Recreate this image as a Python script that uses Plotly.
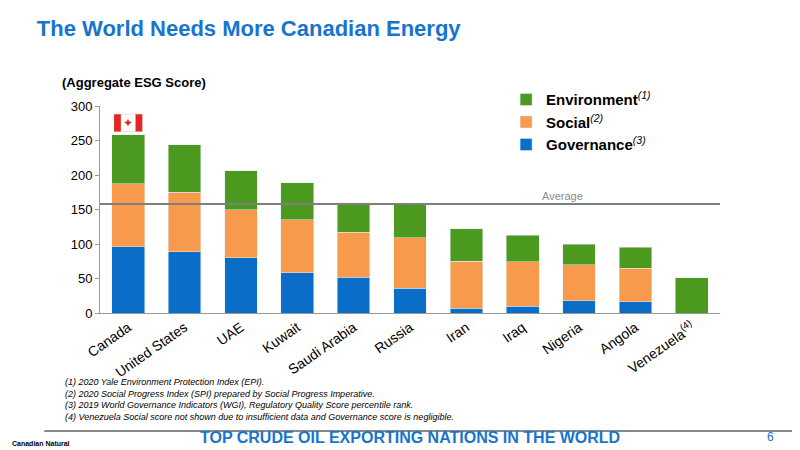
import plotly.graph_objects as go

countries = ["Canada","United States","UAE","Kuwait","Saudi Arabia","Russia","Iran","Iraq","Nigeria","Angola","Venezuela<sup>(4)</sup>"]
governance = [96, 89, 80, 58, 52, 36, 7, 10, 18, 16, 0]
social = [91, 86, 70, 77, 65, 73, 68, 64, 52, 49, 0]
environment = [71, 69, 56, 54, 43, 49, 47, 39, 30, 30, 51]
average = 158

fig = go.Figure()
fig.add_bar(x=countries, y=governance, name="<b>Governance</b><i><sup>(3)</sup></i>", marker_color="#0A6EC8")
fig.add_bar(x=countries, y=social, name="<b>Social</b><i><sup>(2)</sup></i>", marker_color="#F79A4B")
fig.add_bar(x=countries, y=environment, name="<b>Environment</b><i><sup>(1)</sup></i>", marker_color="#4B9A1F")

fig.add_shape(type="line", xref="paper", yref="y", x0=0, x1=1, y0=average, y1=average,
              line=dict(color="#7f7f7f", width=2))
fig.add_annotation(xref="x", yref="y", x=7.7, y=average, text="Average", showarrow=False,
                   yanchor="bottom", font=dict(size=11, color="#8c8c8c"))

# Canada flag
fig.add_shape(type="rect", xref="x", yref="y", x0=-0.25, x1=0.25, y0=263, y1=288,
              fillcolor="white", line=dict(color="#cccccc", width=0.5))
fig.add_shape(type="rect", xref="x", yref="y", x0=-0.25, x1=-0.13, y0=263, y1=288,
              fillcolor="#E52521", line_width=0)
fig.add_shape(type="rect", xref="x", yref="y", x0=0.13, x1=0.25, y0=263, y1=288,
              fillcolor="#E52521", line_width=0)
fig.add_annotation(xref="x", yref="y", x=0, y=275.5, text="✦", showarrow=False,
                   font=dict(size=12, color="#E52521"))

fig.update_layout(
    width=800, height=450, barmode="stack", bargap=0.42,
    plot_bgcolor="white", paper_bgcolor="white",
    margin=dict(l=92, r=88, t=98, b=145),
    font=dict(family="Liberation Sans, Arial", color="#000"),
    title=dict(text="<b>The World Needs More Canadian Energy</b>", x=0.036, xanchor="left",
               y=0.955, yanchor="middle", font=dict(size=22, color="#1874CD")),
    legend=dict(x=0.655, y=1.11, xanchor="left", yanchor="top", traceorder="reversed",
                font=dict(size=15), bgcolor="rgba(0,0,0,0)", itemwidth=30, tracegroupgap=0),
    showlegend=True,
    xaxis=dict(tickangle=-35, tickfont=dict(size=14), showline=True, linecolor="#999", ticks="",
               automargin=False),
    yaxis=dict(range=[0, 300], dtick=50, showgrid=False, showline=True, linecolor="#999",
               ticks="outside", tickcolor="#999", ticklen=4, tickfont=dict(size=13), zeroline=False,
               automargin=False),
)
fig.add_annotation(xref="paper", yref="paper", x=-0.065, y=1.07, xanchor="left", yanchor="bottom",
                   text="<b>(Aggregate ESG Score)</b>", showarrow=False, font=dict(size=13))

notes = ["(1) 2020 Yale Environment Protection Index (EPI).",
         "(2) 2020 Social Progress Index (SPI) prepared by Social Progress Imperative.",
         "(3) 2019 World Governance Indicators (WGI), Regulatory Quality Score percentile rank.",
         "(4) Venezuela Social score not shown due to insufficient data and Governance score is negligible."]
fig.add_annotation(xref="paper", yref="paper", x=-0.06, y=-0.3, xanchor="left", yanchor="top",
                   align="left", text="<br>".join(f"<i>{n}</i>" for n in notes), showarrow=False,
                   font=dict(size=9))
fig.add_shape(type="line", xref="paper", yref="paper", x0=-0.09, x1=1.14, y0=-0.57, y1=-0.57,
              line=dict(color="#888", width=2))
fig.add_annotation(xref="paper", yref="paper", x=0.5, y=-0.6, yanchor="middle",
                   text="<b>TOP CRUDE OIL EXPORTING NATIONS IN THE WORLD</b>", showarrow=False,
                   font=dict(size=16, color="#1874CD"))
fig.add_annotation(xref="paper", yref="paper", x=1.09, y=-0.6, yanchor="middle",
                   text="6", showarrow=False, font=dict(size=12, color="#1874CD"))
fig.add_annotation(xref="paper", yref="paper", x=-0.145, y=-0.63, xanchor="left", yanchor="middle",
                   text="<b>Canadian Natural</b>", showarrow=False, font=dict(size=7))
fig.write_html("out.html")
